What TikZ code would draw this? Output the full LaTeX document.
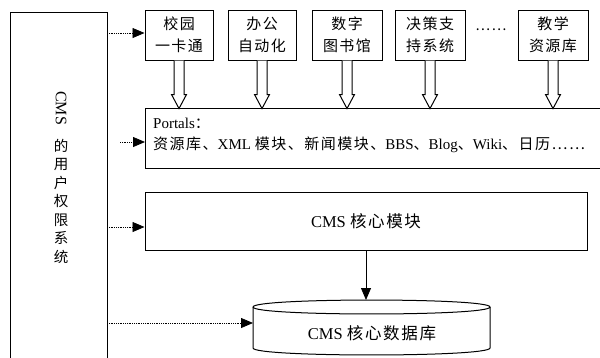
\documentclass[tikz,border=0pt]{standalone}
\usepackage{fontspec}
\setmainfont{Liberation Serif}
\newfontfamily\cjk[LetterSpace=10]{Noto Sans CJK SC}
\usetikzlibrary{arrows.meta,calc}
\newcommand\zh[1]{{\cjk #1}}
\newcommand\hollowarrow[1]{%
  \draw[hollow] ($(#1.south)+(-5,0)$) -- ++(0,34) -- ++(-2.5,0) -- ++(7.5,14) -- ++(7.5,-14) -- ++(-2.5,0) -- ++(0,-34);}
\begin{document}
\begin{tikzpicture}[x=1pt,y=-1pt,
  topbox/.style={draw, line width=1pt, minimum width=68pt, minimum height=50pt, inner sep=0pt, align=center, font=\cjk\fontsize{15}{22}\selectfont},
  bigbox/.style={draw, line width=1pt, inner sep=0pt},
  hollow/.style={draw, line width=1pt, fill=white},
  dotarrow/.style={densely dotted, line width=0.8pt, -{Triangle[length=12pt,width=10pt]}},
  solidarrow/.style={line width=0.8pt, -{Triangle[length=12pt,width=10pt]}},
  lbl/.style={font=\fontsize{16}{21}\selectfont, inner sep=0pt}]
\useasboundingbox (0,0) rectangle (600,357);
\fill[white] (0,0) rectangle (600,357);
\clip (0,0) rectangle (600,357);
% left permission box
\node[bigbox, minimum width=97pt, minimum height=380pt, anchor=north west] (perm) at (10,12) {};
\node[lbl, rotate=-90] (cmsl) at (61,108) {CMS};
\node[lbl, font=\cjk\fontsize{14.5}{18.5}\selectfont, align=center, anchor=north] (perml) at (61,139) {的\\用\\户\\权\\限\\系\\统};
% top boxes
\node[topbox] (b1) at (179,35) {校园\\一卡通};
\node[topbox] (b2) at (262,35) {办公\\自动化};
\node[topbox, minimum width=70pt] (b3) at (347,35) {数字\\图书馆};
\node[topbox, minimum width=70pt] (b4) at (430,35) {决策支\\持系统};
\node[topbox, minimum width=70pt] (b5) at (553,35) {教学\\资源库};
\node[lbl, font=\cjk\fontsize{14}{14}\selectfont] (more) at (491,30) {……};
% portals
\node[bigbox, minimum width=470pt, minimum height=60pt, anchor=north west] (portals) at (145,108) {};
\node[lbl, font=\fontsize{15}{21}\selectfont, anchor=north west, align=left] (ptext) at (153,118) {Portals\zh{：}\\\zh{资源库、}XML \zh{模块、新闻模块、}BBS\zh{、}Blog\zh{、}Wiki\zh{、日历……}};
% core
\node[bigbox, minimum width=442pt, minimum height=58pt, lbl, font=\fontsize{16.5}{20}\selectfont] (core) at (366,221) {CMS \zh{核心模块}};
% database cylinder
\draw[line width=1pt, fill=white] (253,307) -- (253,348) .. controls (253,357.3) and (490,357.3) .. (490,348) -- (490,307);
\draw[line width=1pt] (253,307) .. controls (253,297.7) and (490,297.7) .. (490,307) .. controls (490,316.3) and (253,316.3) .. (253,307);
\node[lbl, font=\fontsize{16.5}{20}\selectfont] (db) at (372,333) {CMS \zh{核心数据库}};
\coordinate (dbtop) at (366,300);
\coordinate (dbl) at (253,323);
% hollow arrows
\hollowarrow{b1}
\hollowarrow{b2}
\hollowarrow{b3}
\hollowarrow{b4}
\hollowarrow{b5}
% dotted arrows
\coordinate (s1) at (107,33);
\coordinate (s2) at (120,142);
\coordinate (s3) at (107,227);
\coordinate (s4) at (107,323);
\draw[dotarrow] (s1) -- (b1.west |- s1);
\draw[dotarrow] (s2) -- (portals.west |- s2);
\draw[dotarrow] (s3) -- (core.west |- s3);
\draw[dotarrow] (s4) -- (dbl);
% core to db
\draw[solidarrow] (core.south) -- (dbtop);
\end{tikzpicture}
\end{document}
